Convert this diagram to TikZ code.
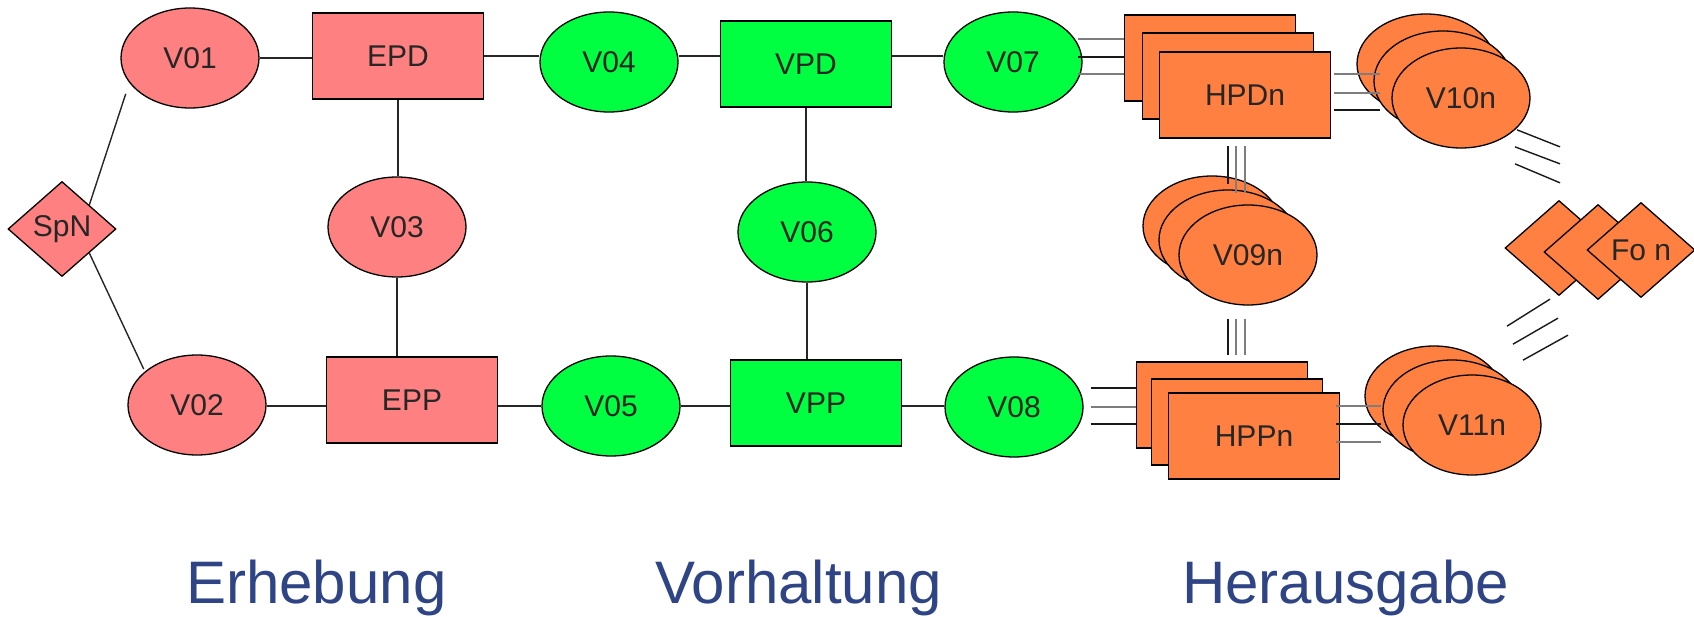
\documentclass[tikz,border=0pt]{standalone}
\usepackage{fontspec}
\setmainfont{Liberation Sans}
\usetikzlibrary{shapes.geometric}
\definecolor{rfill}{RGB}{255,128,128}
\definecolor{gfill}{RGB}{0,255,64}
\definecolor{ofill}{RGB}{255,128,64}
\definecolor{labblue}{RGB}{46,68,132}
\definecolor{lgray}{RGB}{125,125,125}
\begin{document}
\begin{tikzpicture}[x=1pt,y=-1pt,
  ell/.style={ellipse, draw=black, line width=1.3, minimum width=138, minimum height=100, inner sep=0, font=\fontsize{30}{36}\selectfont, text=black!85},
  box/.style={rectangle, draw=black, line width=1.6, minimum width=171, minimum height=86, inner sep=0, font=\fontsize{30}{36}\selectfont, text=black!85},
  dia/.style={diamond, draw=black, line width=1.3, minimum width=108, minimum height=95, inner sep=0, font=\fontsize{30}{36}\selectfont, text=black!85},
  rf/.style={fill=rfill},
  gf/.style={fill=gfill},
  orf/.style={fill=ofill},
  ln/.style={draw=black!85, line width=1.4},
  bl/.style={draw=black!90, line width=1.4},
  gl/.style={draw=lgray, line width=2.4},
  lab/.style={font=\fontsize{60}{72}\selectfont, text=labblue, inner sep=0, anchor=base west}
]
\useasboundingbox (0,0) rectangle (1694,617);

% left part
\node[dia,rf] (SpN) at (62,229) {SpN};
\node[ell,rf] (V01) at (190,58) {V01};
\node[box,rf] (EPD) at (398,56) {EPD};
\node[ell,rf] (V03) at (397,227) {V03};
\node[ell,rf] (V02) at (197,405) {V02};
\node[box,rf] (EPP) at (412,400) {EPP};

% middle part
\node[ell,gf] (V04) at (609,62) {V04};
\node[box,gf] (VPD) at (806,64) {VPD};
\node[ell,gf] (V07) at (1013,62) {V07};
\node[ell,gf] (V06) at (807,232) {V06};
\node[ell,gf] (V05) at (611,406) {V05};
\node[box,gf] (VPP) at (816,403) {VPP};
\node[ell,gf] (V08) at (1014,407) {V08};

% right part (stacks)
\node[box,orf] (HD1) at (1210,58) {};
\node[box,orf] (HD2) at (1228,76) {};
\node[box,orf] (HD3) at (1245,95) {HPDn};
\node[ell,orf] (V09a) at (1212,226) {};
\node[ell,orf] (V09b) at (1228,240) {};
\node[ell,orf] (V09c) at (1248,255) {V09n};
\node[ell,orf] (V10a) at (1426,64) {};
\node[ell,orf] (V10b) at (1443,81) {};
\node[ell,orf] (V10c) at (1461,98) {V10n};
\node[ell,orf] (V11a) at (1434,396) {};
\node[ell,orf] (V11b) at (1452,410) {};
\node[ell,orf] (V11c) at (1472,425) {V11n};
\node[box,orf] (HP1) at (1222,405) {};
\node[box,orf] (HP2) at (1237,422) {};
\node[box,orf] (HP3) at (1254,436) {HPPn};
\node[dia,orf] (FO1) at (1559,248) {};
\node[dia,orf] (FO2) at (1598,252) {};
\node[dia,orf] (FO3) at (1641,250) {Fo n};

% connectors left/middle
\draw[ln] (SpN.north east) -- ([xshift=-15pt]V01.south west);
\draw[ln] (SpN.south east) -- ([xshift=-4pt]V02.north west);
\draw[ln] (V01.east) -- (V01.east -| EPD.west);
\draw[ln] (EPD.east) -- (EPD.east -| V04.west);
\draw[ln] (V04.east |- EPD.east) -- (VPD.west |- EPD.east);
\draw[ln] (VPD.east |- EPD.east) -- (V07.west |- EPD.east);
\draw[ln] (EPD.south) -- (EPD.south |- V03.north);
\draw[ln] (V03.south) -- (V03.south |- EPP.north);
\draw[ln] (VPD.south) -- (VPD.south |- V06.north);
\draw[ln] (V06.south) -- (V06.south |- VPP.north);
\draw[ln] (V02.east |- V05.east) -- (EPP.west |- V05.east);
\draw[ln] (EPP.east |- V05.east) -- (V05.west);
\draw[ln] (V05.east) -- (VPP.west |- V05.east);
\draw[ln] (VPP.east |- V05.east) -- (V08.west |- V05.east);

% V07 -> HPDn
\draw[gl] (HD1.west) ++(-46,-19) -- ++(46,0);
\draw[bl] (HD1.west) ++(-46,-1) -- ++(46,0);
\draw[gl] (HD1.west) ++(-46,16) -- ++(46,0);
% HPDn -> V10n
\draw[gl] (HD3.east) ++(3,-21) -- ++(46,0);
\draw[gl] (HD3.east) ++(3,-2) -- ++(46,0);
\draw[bl] (HD3.east) ++(3,15) -- ++(46,0);
% HPDn -> V09n
\draw[bl] (HD3.south) ++(-17,7) -- ++(0,38);
\draw[gl] (HD3.south) ++(-9,7) -- ++(0,47);
\draw[gl] (HD3.south) ++(0,7) -- ++(0,47);
% V09n -> HPPn
\draw[bl] (V09c.south) ++(-20,13) -- ++(0,36);
\draw[gl] (V09c.south) ++(-12,13) -- ++(0,36);
\draw[gl] (V09c.south) ++(-3,13) -- ++(0,36);
% V08 -> HPPn
\draw[bl] (HP1.west) ++(-45,-17) -- ++(45,0);
\draw[gl] (HP1.west) ++(-45,2) -- ++(45,0);
\draw[bl] (HP1.west) ++(-45,19) -- ++(45,0);
% HPPn -> V11n
\draw[gl] (HP3.east) ++(-4,-30) -- ++(45,0);
\draw[bl] (HP3.east) ++(-4,-12) -- ++(45,0);
\draw[gl] (HP3.east) ++(-4,6) -- ++(45,0);
% V10n -> Fo n
\draw[bl] (FO1.north) ++(-42,-70) -- ++(43,17);
\draw[bl] (FO1.north) ++(-44,-53) -- ++(45,17);
\draw[bl] (FO1.north) ++(-44,-36) -- ++(45,19);
% Fo n -> V11n
\draw[bl] (FO1.south) ++(-52,30) -- ++(43,-27);
\draw[bl] (FO1.south) ++(-46,48) -- ++(45,-26);
\draw[bl] (FO1.south) ++(-36,64) -- ++(45,-25);

% phase labels
\node[lab] (L1) at (186,603) {Erhebung};
\node[lab] (L2) at (655,603) {Vorhaltung};
\node[lab] (L3) at (1182,603) {Herausgabe};
\end{tikzpicture}
\end{document}
